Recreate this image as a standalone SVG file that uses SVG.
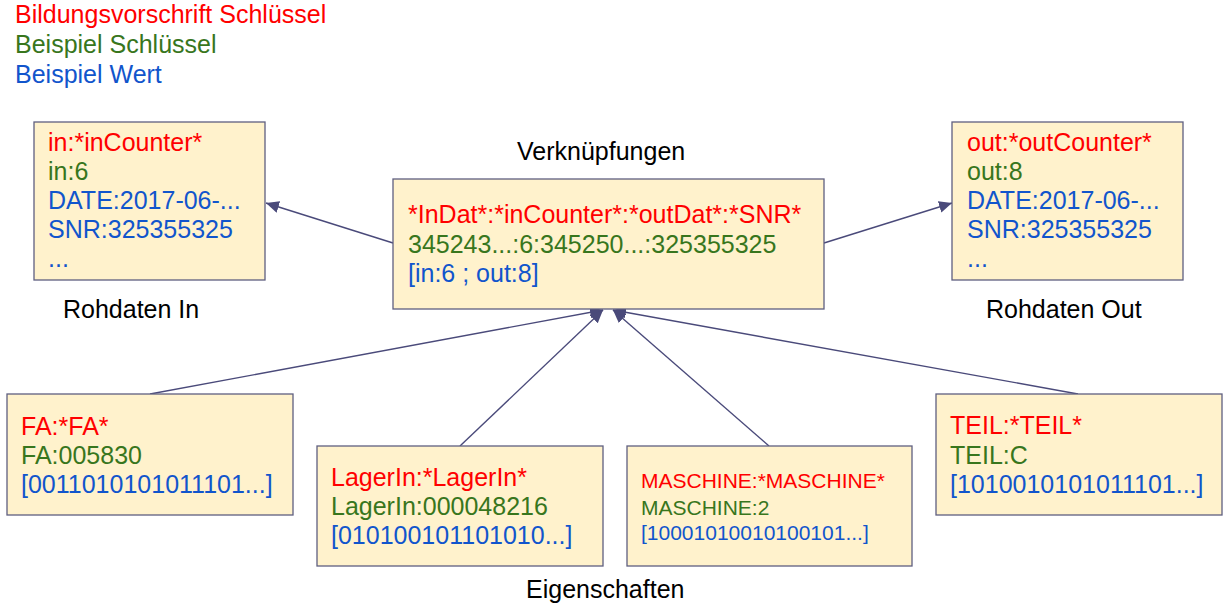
<svg xmlns="http://www.w3.org/2000/svg" width="1227" height="605" viewBox="0 0 1227 605">
<style>
text{font-family:"Liberation Sans",Arial,sans-serif;font-size:25px}
.r{fill:#ff0000}.g{fill:#38761d}.b{fill:#1155cc}.k{fill:#000000}
.box{fill:#fff2cc;stroke:#5f5f80;stroke-width:1.3}
.e{stroke:#4a4a7a;stroke-width:1.4;fill:none;marker-end:url(#ah)}
.sm{font-size:21px}
</style>
<defs>
<marker id="ah" markerUnits="userSpaceOnUse" markerWidth="14" markerHeight="12" refX="13" refY="6" orient="auto">
<path d="M0,0 L13,6 L0,12 Z" fill="#4a4a7a"/>
</marker>
</defs>
<g id="legend">
<text x="15" y="23" class="r">Bildungsvorschrift Schlüssel</text>
<text x="15" y="53" class="g">Beispiel Schlüssel</text>
<text x="15" y="83" class="b">Beispiel Wert</text>
</g>
<g id="connectors">
<line class="e" x1="393" y1="243" x2="266" y2="203"/>
<line class="e" x1="824" y1="243" x2="952" y2="203"/>
<line class="e" x1="150" y1="394" x2="603" y2="310"/>
<line class="e" x1="460" y1="446" x2="603" y2="310"/>
<line class="e" x1="769" y1="446" x2="613" y2="310"/>
<line class="e" x1="1078" y1="394" x2="613" y2="310"/>
</g>
<g id="rohdaten-in">
<rect class="box" x="34" y="122" width="231" height="158"/>
<text x="48" y="151" class="r">in:*inCounter*</text>
<text x="48" y="180" class="g">in:6</text>
<text x="48" y="209" class="b">DATE:2017-06-...</text>
<text x="48" y="238" class="b">SNR:325355325</text>
<text x="48" y="267" class="b">...</text>
<text x="63" y="318" class="k">Rohdaten In</text>
</g>
<g id="verknuepfungen">
<rect class="box" x="393" y="179" width="431" height="130"/>
<text x="408" y="223" class="r">*InDat*:*inCounter*:*outDat*:*SNR*</text>
<text x="408" y="253" class="g">345243...:6:345250...:325355325</text>
<text x="408" y="282" class="b">[in:6 ; out:8]</text>
<text x="517" y="160" class="k">Verknüpfungen</text>
</g>
<g id="rohdaten-out">
<rect class="box" x="952" y="122" width="231" height="158"/>
<text x="967" y="151" class="r">out:*outCounter*</text>
<text x="967" y="180" class="g">out:8</text>
<text x="967" y="209" class="b">DATE:2017-06-...</text>
<text x="967" y="238" class="b">SNR:325355325</text>
<text x="967" y="267" class="b">...</text>
<text x="986" y="318" class="k">Rohdaten Out</text>
</g>
<g id="fa">
<rect class="box" x="7" y="394" width="286" height="121"/>
<text x="21" y="435" class="r">FA:*FA*</text>
<text x="21" y="464" class="g">FA:005830</text>
<text x="21" y="493" class="b">[0011010101011101...]</text>
</g>
<g id="lagerin">
<rect class="box" x="317" y="446" width="286" height="120"/>
<text x="331" y="486" class="r">LagerIn:*LagerIn*</text>
<text x="331" y="515" class="g">LagerIn:000048216</text>
<text x="331" y="544" class="b">[010100101101010...]</text>
</g>
<g id="maschine">
<rect class="box" x="627" y="446" width="285" height="120"/>
<text x="641" y="488" class="r sm">MASCHINE:*MASCHINE*</text>
<text x="641" y="515" class="g sm">MASCHINE:2</text>
<text x="641" y="540" class="b sm">[10001010010100101...]</text>
</g>
<g id="teil">
<rect class="box" x="936" y="394" width="286" height="121"/>
<text x="950" y="434" class="r">TEIL:*TEIL*</text>
<text x="950" y="464" class="g">TEIL:C</text>
<text x="950" y="493" class="b">[1010010101011101...]</text>
</g>
<g id="eigenschaften">
<text x="526" y="598" class="k">Eigenschaften</text>
</g>
</svg>
